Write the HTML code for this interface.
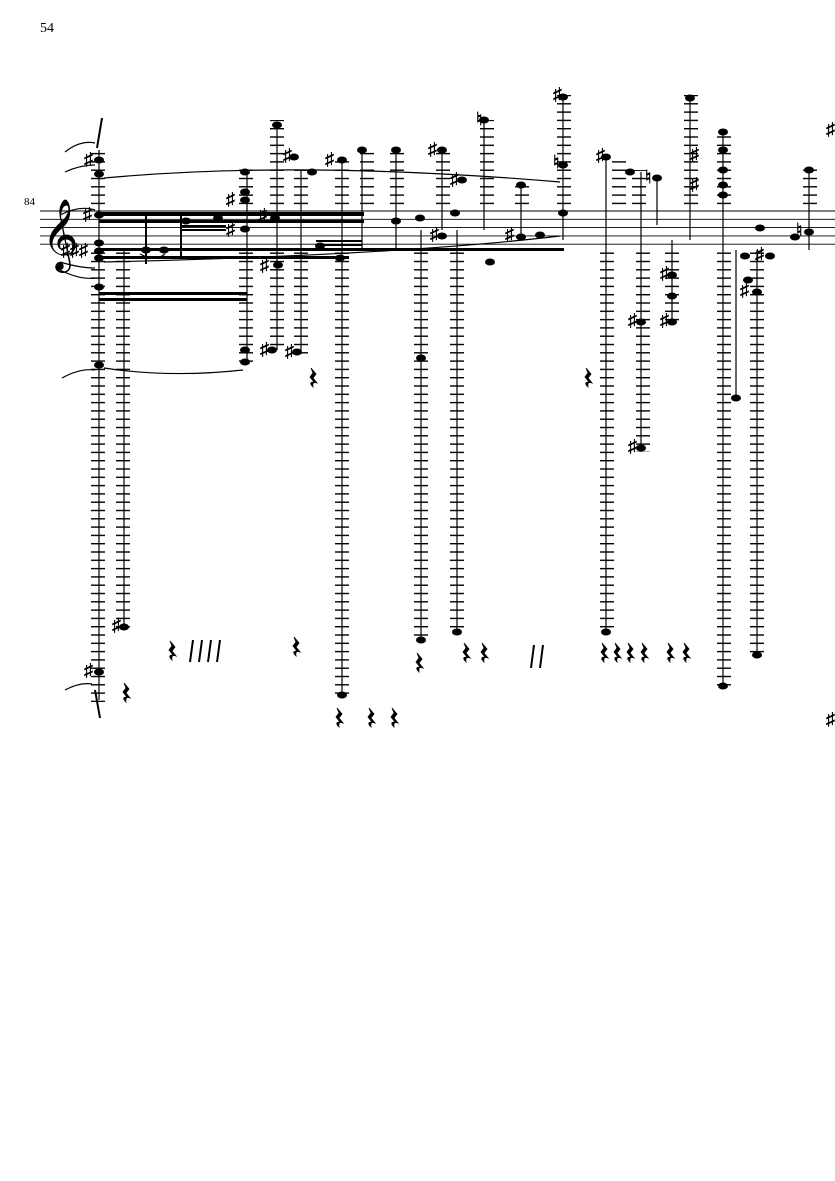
<!DOCTYPE html>
<html><head><meta charset="utf-8"><style>
html,body{margin:0;padding:0;background:#fff;}
svg{display:block;}
text{font-family:"Liberation Serif",serif;}
</style></head><body>
<svg width="835" height="1181" viewBox="0 0 835 1181" xmlns="http://www.w3.org/2000/svg">
<defs>
<pattern id="led" patternUnits="userSpaceOnUse" width="1000" height="8.3" patternTransform="translate(0,211)">
<rect x="0" y="0" width="1000" height="1.4" fill="#000"/>
</pattern>
<g id="r"><path d="M0 0 L5 6 L2 10 L6 15 Q1 13 2 19 Q-3 14 3 14 L-1 9 L2 5 Z" fill="#000" stroke="#000" stroke-width="0.8"/></g>
</defs>
<rect width="835" height="1181" fill="#fff"/>
<text x="40" y="32" font-size="14">54</text>
<text x="24" y="205" font-size="11">84</text>
<g stroke="#000" stroke-width="0.9">
<line x1="40" y1="211" x2="835" y2="211"/><line x1="40" y1="219.3" x2="835" y2="219.3"/>
<line x1="40" y1="227.6" x2="835" y2="227.6"/><line x1="40" y1="235.9" x2="835" y2="235.9"/>
<line x1="40" y1="244.2" x2="835" y2="244.2"/>
</g>
<text x="42" y="255" font-size="62" font-family="DejaVu Sans">𝄞</text>
<g fill="url(#led)">
<rect x="91" y="148" width="14" height="58"/><rect x="91" y="252" width="14" height="450"/>
<rect x="116" y="252" width="14" height="378"/>
<rect x="239" y="168" width="14" height="38"/><rect x="239" y="252" width="14" height="115"/>
<rect x="270" y="120" width="14" height="86"/><rect x="270" y="252" width="14" height="100"/>
<rect x="294" y="168" width="14" height="38"/><rect x="294" y="252" width="14" height="104"/>
<rect x="335" y="158" width="14" height="48"/><rect x="335" y="252" width="14" height="444"/>
<rect x="360" y="148" width="14" height="58"/>
<rect x="390" y="148" width="14" height="58"/>
<rect x="414" y="252" width="14" height="388"/>
<rect x="436" y="148" width="14" height="58"/>
<rect x="450" y="252" width="14" height="380"/>
<rect x="480" y="120" width="14" height="86"/>
<rect x="515" y="185" width="14" height="21"/>
<rect x="557" y="95" width="14" height="111"/>
<rect x="600" y="252" width="14" height="380"/>
<rect x="612" y="160" width="14" height="46"/>
<rect x="636" y="252" width="14" height="200"/>
<rect x="632" y="170" width="14" height="36"/>
<rect x="665" y="252" width="14" height="75"/>
<rect x="684" y="95" width="14" height="111"/>
<rect x="717" y="130" width="14" height="76"/>
<rect x="717" y="252" width="14" height="434"/>
<rect x="750" y="252" width="14" height="405"/>
<rect x="803" y="168" width="14" height="38"/>
</g>
<g stroke="#000" stroke-width="1.2">
<line x1="99" y1="150" x2="99" y2="700"/><line x1="124" y1="250" x2="124" y2="628"/>
<line x1="247" y1="170" x2="247" y2="365"/><line x1="277" y1="125" x2="277" y2="350"/>
<line x1="301" y1="170" x2="301" y2="354"/><line x1="342" y1="160" x2="342" y2="694"/>
<line x1="362" y1="150" x2="362" y2="250"/><line x1="396" y1="150" x2="396" y2="250"/>
<line x1="421" y1="230" x2="421" y2="640"/><line x1="442" y1="150" x2="442" y2="230"/>
<line x1="457" y1="230" x2="457" y2="632"/><line x1="484" y1="120" x2="484" y2="230"/>
<line x1="521" y1="185" x2="521" y2="240"/><line x1="563" y1="97" x2="563" y2="240"/>
<line x1="606" y1="160" x2="606" y2="632"/><line x1="641" y1="172" x2="641" y2="450"/>
<line x1="657" y1="178" x2="657" y2="225"/><line x1="672" y1="240" x2="672" y2="325"/>
<line x1="690" y1="98" x2="690" y2="240"/><line x1="723" y1="130" x2="723" y2="686"/>
<line x1="736" y1="250" x2="736" y2="398"/><line x1="757" y1="250" x2="757" y2="655"/>
<line x1="809" y1="170" x2="809" y2="250"/>
</g>
<g fill="#000">
<rect x="99" y="212" width="265" height="4"/><rect x="99" y="220" width="265" height="3"/>
<rect x="99" y="248" width="465" height="3"/><rect x="99" y="256" width="250" height="3"/>
<rect x="99" y="292" width="148" height="3"/><rect x="99" y="298" width="148" height="3"/>
<rect x="180" y="225" width="46" height="2"/><rect x="180" y="229" width="46" height="2"/>
<rect x="145" y="216" width="2" height="48"/><rect x="180" y="216" width="2" height="40"/>
<rect x="316" y="240" width="46" height="2"/><rect x="316" y="244" width="46" height="2"/>
</g>
<g fill="#000">
<ellipse cx="99" cy="160" rx="5" ry="3.5"/><ellipse cx="99" cy="174" rx="5" ry="3.5"/>
<ellipse cx="99" cy="215" rx="5" ry="3.5"/><ellipse cx="99" cy="243" rx="5" ry="3.5"/>
<ellipse cx="99" cy="251" rx="5" ry="3.5"/><ellipse cx="99" cy="258" rx="5" ry="3.5"/>
<ellipse cx="99" cy="287" rx="5" ry="3.5"/><ellipse cx="99" cy="365" rx="5" ry="3.5"/>
<ellipse cx="99" cy="672" rx="5" ry="3.5"/><ellipse cx="124" cy="627" rx="5" ry="3.5"/>
<ellipse cx="186" cy="221" rx="5" ry="3.5"/><ellipse cx="218" cy="218" rx="5" ry="3.5"/>
<ellipse cx="146" cy="250" rx="5" ry="3.5"/><ellipse cx="164" cy="250" rx="5" ry="3.5"/>
<ellipse cx="245" cy="172" rx="5" ry="3.5"/><ellipse cx="245" cy="192" rx="5" ry="3.5"/>
<ellipse cx="245" cy="200" rx="5" ry="3.5"/><ellipse cx="245" cy="229" rx="5" ry="3.5"/>
<ellipse cx="245" cy="362" rx="5" ry="3.5"/><ellipse cx="245" cy="350" rx="5" ry="3.5"/>
<ellipse cx="277" cy="125" rx="5" ry="3.5"/><ellipse cx="294" cy="157" rx="5" ry="3.5"/>
<ellipse cx="275" cy="218" rx="5" ry="3.5"/><ellipse cx="278" cy="265" rx="5" ry="3.5"/>
<ellipse cx="272" cy="350" rx="5" ry="3.5"/><ellipse cx="297" cy="352" rx="5" ry="3.5"/>
<ellipse cx="312" cy="172" rx="5" ry="3.5"/><ellipse cx="342" cy="160" rx="5" ry="3.5"/>
<ellipse cx="342" cy="695" rx="5" ry="3.5"/><ellipse cx="340" cy="258" rx="5" ry="3.5"/>
<ellipse cx="320" cy="246" rx="5" ry="3.5"/><ellipse cx="362" cy="150" rx="5" ry="3.5"/>
<ellipse cx="396" cy="150" rx="5" ry="3.5"/><ellipse cx="396" cy="221" rx="5" ry="3.5"/>
<ellipse cx="420" cy="218" rx="5" ry="3.5"/><ellipse cx="421" cy="358" rx="5" ry="3.5"/>
<ellipse cx="421" cy="640" rx="5" ry="3.5"/><ellipse cx="442" cy="150" rx="5" ry="3.5"/>
<ellipse cx="442" cy="236" rx="5" ry="3.5"/><ellipse cx="462" cy="180" rx="5" ry="3.5"/>
<ellipse cx="457" cy="632" rx="5" ry="3.5"/><ellipse cx="484" cy="120" rx="5" ry="3.5"/>
<ellipse cx="455" cy="213" rx="5" ry="3.5"/><ellipse cx="490" cy="262" rx="5" ry="3.5"/>
<ellipse cx="521" cy="185" rx="5" ry="3.5"/><ellipse cx="521" cy="237" rx="5" ry="3.5"/>
<ellipse cx="563" cy="97" rx="5" ry="3.5"/><ellipse cx="563" cy="165" rx="5" ry="3.5"/>
<ellipse cx="563" cy="213" rx="5" ry="3.5"/><ellipse cx="540" cy="235" rx="5" ry="3.5"/>
<ellipse cx="606" cy="157" rx="5" ry="3.5"/><ellipse cx="606" cy="632" rx="5" ry="3.5"/>
<ellipse cx="630" cy="172" rx="5" ry="3.5"/><ellipse cx="641" cy="322" rx="5" ry="3.5"/>
<ellipse cx="641" cy="448" rx="5" ry="3.5"/><ellipse cx="657" cy="178" rx="5" ry="3.5"/>
<ellipse cx="672" cy="275" rx="5" ry="3.5"/><ellipse cx="672" cy="296" rx="5" ry="3.5"/>
<ellipse cx="672" cy="322" rx="5" ry="3.5"/><ellipse cx="690" cy="98" rx="5" ry="3.5"/>
<ellipse cx="723" cy="132" rx="5" ry="3.5"/><ellipse cx="723" cy="150" rx="5" ry="3.5"/>
<ellipse cx="723" cy="170" rx="5" ry="3.5"/><ellipse cx="723" cy="185" rx="5" ry="3.5"/>
<ellipse cx="723" cy="195" rx="5" ry="3.5"/><ellipse cx="723" cy="686" rx="5" ry="3.5"/>
<ellipse cx="736" cy="398" rx="5" ry="3.5"/><ellipse cx="757" cy="292" rx="5" ry="3.5"/>
<ellipse cx="757" cy="655" rx="5" ry="3.5"/><ellipse cx="748" cy="280" rx="5" ry="3.5"/>
<ellipse cx="745" cy="256" rx="5" ry="3.5"/><ellipse cx="770" cy="256" rx="5" ry="3.5"/>
<ellipse cx="760" cy="228" rx="5" ry="3.5"/><ellipse cx="795" cy="237" rx="5" ry="3.5"/>
<ellipse cx="809" cy="170" rx="5" ry="3.5"/><ellipse cx="809" cy="232" rx="5" ry="3.5"/>
</g>
<g font-size="18" font-family="DejaVu Sans" font-weight="bold">
<text x="84" y="165">♯</text><text x="83" y="220">♯</text><text x="61" y="256">♯♯♯</text>
<text x="226" y="205">♯</text><text x="226" y="235">♯</text><text x="258" y="221">♯</text>
<text x="283" y="161">♯</text><text x="260" y="271">♯</text><text x="260" y="355">♯</text>
<text x="285" y="357">♯</text><text x="325" y="165">♯</text><text x="428" y="155">♯</text>
<text x="450" y="185">♯</text><text x="430" y="240">♯</text><text x="476" y="125">♮</text>
<text x="505" y="240">♯</text><text x="553" y="100">♯</text><text x="553" y="168">♮</text>
<text x="596" y="161">♯</text><text x="628" y="326">♯</text><text x="628" y="452">♯</text>
<text x="645" y="183">♮</text><text x="660" y="279">♯</text><text x="660" y="326">♯</text>
<text x="690" y="160">♯</text><text x="690" y="190">♯</text><text x="740" y="296">♯</text>
<text x="755" y="260">♯</text><text x="796" y="236">♮</text><text x="826" y="135">♯</text>
<text x="826" y="725">♯</text><text x="84" y="676">♯</text><text x="112" y="631">♯</text>
</g>
<use href="#r" x="311" y="368"/><use href="#r" x="586" y="368"/>
<use href="#r" x="170" y="641"/><use href="#r" x="294" y="637"/><use href="#r" x="417" y="653"/>
<use href="#r" x="464" y="643"/><use href="#r" x="482" y="643"/><use href="#r" x="602" y="643"/>
<use href="#r" x="615" y="643"/><use href="#r" x="628" y="643"/><use href="#r" x="642" y="643"/>
<use href="#r" x="668" y="643"/><use href="#r" x="684" y="643"/><use href="#r" x="124" y="683"/>
<use href="#r" x="337" y="708"/><use href="#r" x="369" y="708"/><use href="#r" x="392" y="708"/>
<g fill="none" stroke="#000" stroke-width="1.2">
<path d="M65 152 Q80 140 95 143"/><path d="M65 172 Q80 165 95 165"/>
<path d="M104 178 Q300 160 560 182"/><path d="M60 215 Q80 205 95 210"/>
<path d="M60 262 Q80 268 95 268"/><path d="M60 270 Q80 280 95 278"/>
<path d="M104 262 Q400 255 560 236"/>
<path d="M62 378 Q80 368 95 370"/><path d="M104 368 Q170 378 243 370"/>
<path d="M65 690 Q80 682 92 684"/><path d="M140 254 Q155 262 165 254"/>
</g>
<g stroke="#000" stroke-width="2">
<line x1="95" y1="690" x2="100" y2="718"/><line x1="102" y1="118" x2="97" y2="148"/>
<line x1="193" y1="640" x2="190" y2="662"/><line x1="202" y1="640" x2="199" y2="662"/>
<line x1="211" y1="640" x2="208" y2="662"/><line x1="220" y1="640" x2="217" y2="662"/>
<line x1="534" y1="645" x2="531" y2="668"/><line x1="543" y1="645" x2="540" y2="668"/>
</g>
</svg>
</body></html>
